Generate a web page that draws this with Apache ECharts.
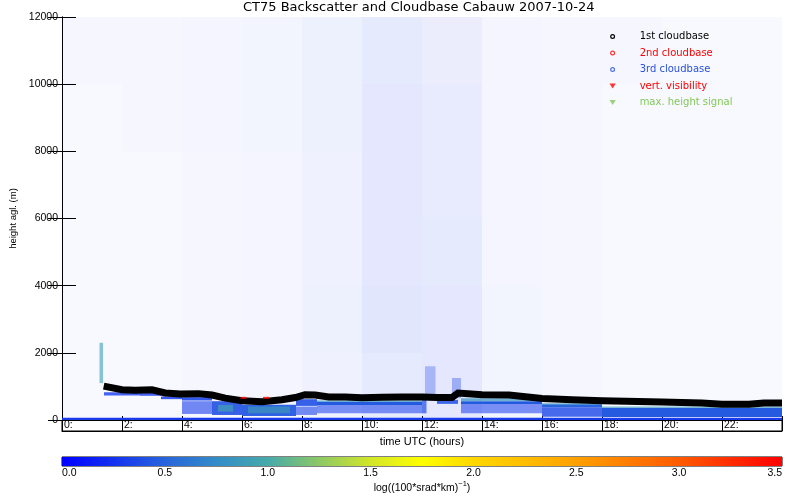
<!DOCTYPE html>
<html><head><meta charset="utf-8">
<script src="https://cdn.jsdelivr.net/npm/echarts@6/dist/echarts.min.js"></script>
<style>html,body{margin:0;padding:0;background:#fff}#c{width:800px;height:500px}</style>
</head><body><div id="c"></div>
<script>
// ---- data ----
const titleText = 'CT75 Backscatter and Cloudbase Cabauw 2007-10-24';
// 1st cloudbase (hours UTC, metres)
const cloudHours = [1.39,2.0,2.44,3.0,3.44,3.94,4.55,5.0,5.44,6.0,6.67,7.33,7.78,8.1,8.44,8.89,9.44,10.0,10.67,11.33,12.0,12.5,13.0,13.2,14.0,14.9,16.0,17.0,18.0,20.0,21.33,22.0,22.9,23.4,24.0];
const cloudBase1 = [1010,900,885,900,805,775,785,745,650,575,545,605,670,755,745,685,685,660,675,685,685,670,670,805,755,745,640,600,570,535,505,470,470,505,505];
// 2nd cloudbase
const cloud2Hours = [6.05,6.8];
const cloudBase2 = [660,660];
// backscatter patches: start h, end h, low m, high m, log value, coverage
const bsStart = [0,   1.25,1.4, 2.6, 3.3, 4.0, 4.0, 5.0, 5.2, 6.0, 6.2, 7.8, 7.8, 8.5, 8.5, 8.5, 12.0,12.1,12.5,13.0,13.3,13.3,13.3,16.0,16.0,16.0,18.0,18.0];
const bsEnd   = [24,  1.37,2.6, 3.3, 4.0, 5.0, 5.0, 6.0, 5.7, 7.8, 7.6, 8.5, 8.5, 12.0,12.0,12.0,12.15,12.45,13.2,13.3,16.0,16.0,16.0,18.0,18.0,18.0,24.0,24.0];
const bsLow   = [0,   1100,730, 720, 620, 580, 180, 150, 250, 120, 200, 420, 150, 440, 540, 200, 200, 700, 480, 650, 470, 560, 200, 380, 460, 100, 90,  360];
const bsHigh  = [70,  2300,830, 810, 700, 680, 560, 560, 450, 455, 400, 620, 400, 540, 580, 440, 600, 1600,600, 1250,560, 650, 470, 470, 500, 380, 360, 400];
const bsValue = [0.3, 0.9, 0.3, 0.3, 0.3, 0.35,0.3, 0.4, 1.0, 0.45,0.95,0.4, 0.35,0.45,0.9, 0.3, 0.4, 0.35,0.4, 0.35,0.45,0.8, 0.3, 0.5, 0.85,0.35,0.45,0.85];
const bsCover = [1,   0.6, 0.8, 0.8, 0.85,0.9, 0.6, 0.9, 0.6, 0.95,0.55,0.9, 0.6, 1.0, 0.8, 0.55,0.7, 0.3, 0.85,0.35,1.0, 0.7, 0.55,1.0, 0.7, 0.8, 1.0, 0.65];
// density of the scattered noise pixels (fraction of area), 2 h x 2000 m cells
const noiseHours = [0,2,4,6,8,10,12,14,16,18,20,22];
const noiseRowLows = [0,2000,4000,6000,8000,10000];
const noise0    = [0.03,0.03,0.04,0.05,0.07,0.11,0.12,0.06,0.04,0.03,0.03,0.03];
const noise2000 = [0.03,0.03,0.04,0.05,0.08,0.13,0.12,0.06,0.04,0.03,0.03,0.03];
const noise4000 = [0.03,0.03,0.04,0.05,0.07,0.12,0.11,0.05,0.04,0.03,0.03,0.03];
const noise6000 = [0.03,0.03,0.04,0.05,0.07,0.12,0.10,0.05,0.04,0.03,0.03,0.03];
const noise8000 = [0.03,0.04,0.05,0.06,0.08,0.12,0.10,0.05,0.04,0.03,0.03,0.03];
const noise10000= [0.04,0.04,0.05,0.06,0.08,0.11,0.09,0.05,0.04,0.04,0.03,0.03];
const noiseRows = [noise0,noise2000,noise4000,noise6000,noise8000,noise10000];
// colour bar
const cbMin = 0, cbMax = 3.5, cbStep = 0.5;
const cbColors = ['#0000ff','#1432f0','#2864dc','#328cc8','#46aaaa','#8cc864','#d2e628','#ffff00','#ffd700','#ffbe00','#ffa000','#ff7d00','#ff5a00','#ff2d00','#ff0000'];
const legendNames = ['1st cloudbase','2nd cloudbase','3rd cloudbase','vert. visibility','max. height signal'];
const legendColors = ['#000000','#ff0000','#2850dc','#ff0000','#82c85a'];

// ---- build ----
const bsData = bsStart.map((s,i)=>[s,bsEnd[i],bsLow[i],bsHigh[i],bsValue[i],bsCover[i]]);
const noiseData = [];
noiseRows.forEach((row,r)=>row.forEach((d,c)=>noiseData.push([noiseHours[c],noiseHours[c]+2,noiseRowLows[r],noiseRowLows[r]+2000,d])));
const cb1 = cloudHours.map((h,i)=>[h,cloudBase1[i]]);
const cb2 = cloud2Hours.map((h,i)=>[h,cloudBase2[i]]);

const F = 'Liberation Sans';
const ringIcon = 'path://M5,0A5,5 0 1,0 5,10A5,5 0 1,0 5,0ZM5,2.4A2.6,2.6 0 1,1 5,7.6A2.6,2.6 0 1,1 5,2.4Z';
const triIcon = 'path://M0,0L10,0L5,8Z';
function rectItem(api, x0, x1, y0, y1){
  const p0 = api.coord([x0, y1]); const p1 = api.coord([x1, y0]);
  return {x:p0[0], y:p0[1], width:p1[0]-p0[0], height:p1[1]-p0[1]};
}
const chart = echarts.init(document.getElementById('c'), null, {renderer:'canvas'});
const axBase = {type:'value', axisLine:{show:true,lineStyle:{color:'#000',width:1}}, splitLine:{show:false}};
chart.setOption({
  backgroundColor:'#fff',
  animation:false,
  title:{text:titleText, left:243, top:1, padding:0, textStyle:{fontFamily:'DejaVu Sans', fontSize:13, fontWeight:'normal', color:'#000'}},
  legend:{
    orient:'vertical', left:609.5, top:30.5, itemWidth:44, itemHeight:5, itemGap:4.5, selectedMode:false, padding:0,
    textStyle:{fontFamily:'DejaVu Sans', fontSize:10, lineHeight:12},
    data: legendNames.map((n,i)=>({name:n, icon: i<3 ? ringIcon : triIcon, textStyle:{color:legendColors[i]}}))
  },
  grid:[
    {left:62, top:17, width:720, height:403, outerBoundsMode:'none'},
    {left:62, top:420, width:720, height:11, show:true, borderColor:'#000', borderWidth:1, backgroundColor:'transparent', outerBoundsMode:'none'},
    {left:62, top:457, width:720, height:9, show:true, borderColor:'#000', borderWidth:1, backgroundColor:'transparent', outerBoundsMode:'none'}
  ],
  xAxis:[
    Object.assign({}, axBase, {gridIndex:0, min:0, max:24, interval:2, position:'bottom', axisTick:{show:true, inside:true, length:4, lineStyle:{color:'#000'}}, axisLabel:{show:false}}),
    Object.assign({}, axBase, {gridIndex:0, min:0, max:24, interval:2, position:'top', axisTick:{show:true, inside:true, length:5, lineStyle:{color:'#000'}}, axisLabel:{show:false}}),
    Object.assign({}, axBase, {gridIndex:1, min:0, max:24, interval:2, position:'bottom', axisTick:{show:false},
      splitLine:{show:true, lineStyle:{color:'#000', width:1}},
      axisLabel:{inside:true, margin:5.5, align:'left', verticalAlign:'middle', padding:[0,0,0,2], formatter:v=>v+':', showMaxLabel:false, showMinLabel:true, color:'#000', fontSize:10.5, fontFamily:F},
      name:'time UTC (hours)', nameLocation:'middle', nameGap:5, nameTextStyle:{color:'#000', fontSize:11, fontFamily:F, verticalAlign:'top'}}),
    Object.assign({}, axBase, {gridIndex:2, min:cbMin, max:cbMax, interval:cbStep, position:'bottom', axisLine:{show:false}, axisTick:{show:false},
      axisLabel:{margin:2, formatter:v=>v.toFixed(1), color:'#000', fontSize:10.5, fontFamily:F, alignMinLabel:'left', alignMaxLabel:'right'},
      name:'{a|log((100*srad*km)}{s|−1}{a|)}', nameLocation:'middle', nameGap:11,
      nameTextStyle:{color:'#000', verticalAlign:'top', rich:{a:{fontSize:10.5, fontFamily:F, color:'#000', verticalAlign:'bottom', lineHeight:14}, s:{fontSize:7.5, fontFamily:F, color:'#000', verticalAlign:'top', lineHeight:14, padding:[0,0,6,0]}}}})
  ],
  yAxis:[
    Object.assign({}, axBase, {gridIndex:0, min:0, max:12000, interval:2000, position:'left', axisTick:{show:true, inside:true, length:14, lineStyle:{color:'#000'}},
      axisLabel:{margin:4, color:'#000', fontSize:10.5, fontFamily:F, formatter:v=>String(v)},
      name:'height agl. (m)', nameLocation:'middle', nameGap:44, nameRotate:90, nameTextStyle:{color:'#000', fontSize:9.5, fontFamily:F}}),
    Object.assign({}, axBase, {gridIndex:0, min:0, max:12000, interval:2000, position:'right', axisTick:{show:true, inside:true, length:14, lineStyle:{color:'#000'}}, axisLabel:{show:false}}),
    {gridIndex:1, type:'value', min:0, max:1, show:false},
    {gridIndex:2, type:'value', min:0, max:1, show:false}
  ],
  visualMap:{type:'continuous', show:false, min:cbMin, max:cbMax, dimension:4, seriesIndex:1, inRange:{color:cbColors}},
  series:[
    {type:'custom', name:'noise', xAxisIndex:0, yAxisIndex:0, clip:true, silent:true, data:noiseData,
      encode:{x:[0,1], y:[2,3]},
      renderItem:(p,api)=>({type:'rect', shape:rectItem(api, api.value(0), api.value(1), api.value(2), api.value(3)), style:{fill:'rgb(30,60,235)', opacity:api.value(4)}})},
    {type:'custom', name:'backscatter', xAxisIndex:0, yAxisIndex:0, clip:true, silent:true, data:bsData,
      encode:{x:[0,1], y:[2,3]},
      renderItem:(p,api)=>({type:'rect', shape:rectItem(api, api.value(0), api.value(1), api.value(2), api.value(3)), style:{fill:api.visual('color'), opacity:api.value(5)}})},
    {type:'line', name:legendNames[0], xAxisIndex:0, yAxisIndex:0, data:cb1, symbol:'none', color:'#000', itemStyle:{color:'#000'}, lineStyle:{color:'#000', width:7, join:'miter'}, clip:true, z:5},
    {type:'scatter', name:legendNames[1], data:cb2, symbol:'rect', symbolSize:[6,2], itemStyle:{color:'#ff0000'}, color:'#ff0000', z:6},
    {type:'scatter', name:legendNames[2], data:[], symbol:'emptyCircle', itemStyle:{color:legendColors[2]}, color:legendColors[2]},
    {type:'scatter', name:legendNames[3], data:[], symbol:'triangle', itemStyle:{color:legendColors[3]}, color:legendColors[3]},
    {type:'scatter', name:legendNames[4], data:[], symbol:'triangle', itemStyle:{color:legendColors[4]}, color:legendColors[4]},
    {type:'custom', name:'colorbar', xAxisIndex:3, yAxisIndex:3, silent:true, data:[[cbMin,cbMax]], encode:{x:[0,1]},
      renderItem:(p,api)=>({type:'rect', shape:rectItem(api, api.value(0), api.value(1), 0, 1),
        style:{fill:new echarts.graphic.LinearGradient(0,0,1,0, cbColors.map((c,i)=>({offset:i/(cbColors.length-1), color:c})))}})}
  ]
});
</script></body></html>
